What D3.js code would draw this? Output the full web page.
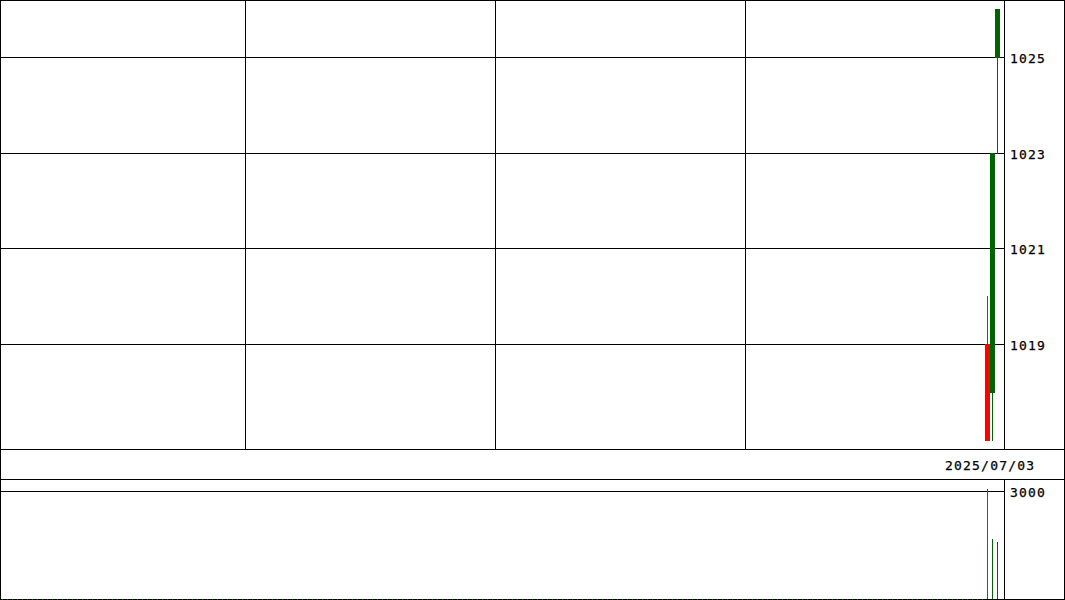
<!DOCTYPE html>
<html>
<head>
<meta charset="utf-8">
<script src="https://cdn.jsdelivr.net/npm/d3@7/dist/d3.min.js"></script>
<style>
  html, body { margin: 0; padding: 0; background: #fff; overflow: hidden; }
  svg { display: block; }
  text { font-family: "DejaVu Sans Mono", monospace; font-size: 13px; fill: #000; letter-spacing: 1.2px; stroke: #000; stroke-width: 0.25px; }
</style>
</head>
<body>
<svg id="chart" width="1065" height="600"></svg>
<script>
// ---- data ----
const slots   = [197, 198, 199];            // trading-day slot index on the x axis
const opens   = [1019, 1018, 1025];
const highs   = [1020, 1023, 1026];
const lows    = [1017, 1017, 1023];
const closes  = [1017, 1023, 1026];
const volumes = [3060, 1670, 1580];
const priceTicks  = [1019, 1021, 1023, 1025];
const volumeTicks = [3000];
const monthSlots  = [49, 99, 149];            // vertical separators
const dateLabel   = "2025/07/03";

// ---- layout ----
const W = 1065, H = 600;
const plotRight = 1004, priceBottom = 449, dateBottom = 479, volBottom = 599;
const svg = d3.select("#chart");
const px = v => Math.round(v) + 0.5;

const x = d3.scaleLinear().domain([0, 200]).range([0, 1000]);
const y = d3.scaleLinear().domain([1019, 1025]).range([344, 57]);
const yv = d3.scaleLinear().domain([0, 3000]).range([volBottom, 491]);

const g = svg.append("g").attr("shape-rendering", "crispEdges");
const line = (x1, y1, x2, y2, col) => g.append("line")
  .attr("x1", x1).attr("y1", y1).attr("x2", x2).attr("y2", y2)
  .attr("stroke", col || "#000").attr("stroke-width", 1);

// price gridlines
priceTicks.forEach(t => {
  line(0, px(y(t)), plotRight, px(y(t)));
  svg.append("text").attr("x", 1010).attr("y", Math.round(y(t)) + 6).text(t);
});
// month separators
monthSlots.forEach(s => line(px(x(s)), 0, px(x(s)), priceBottom));

// volume gridline
volumeTicks.forEach(t => {
  line(0, px(yv(t)), plotRight, px(yv(t)));
  svg.append("text").attr("x", 1010).attr("y", Math.round(yv(t)) + 6).text(t);
});

// date label
svg.append("text").attr("x", 945).attr("y", 470).text(dateLabel);

// candles
const data = slots.map((s, i) => ({ s, o: opens[i], h: highs[i], l: lows[i], c: closes[i], v: volumes[i] }));
const colorOf = d => d.c >= d.o ? "#006400" : "#ff0000";

data.forEach(d => {
  const cx = px(x(d.s) + 2);
  line(cx, Math.round(y(d.h)), cx, Math.round(y(d.l)) + 1, colorOf(d));
  const top = Math.round(y(Math.max(d.o, d.c)));
  const bot = Math.round(y(Math.min(d.o, d.c))) + 1;
  g.append("rect").attr("x", x(d.s)).attr("width", 5)
    .attr("y", top).attr("height", bot - top).attr("fill", colorOf(d));
  // volume
  line(cx, Math.round(yv(d.v)), cx, volBottom, colorOf(d));
});

// frame lines
line(0, px(priceBottom), W, px(priceBottom));
line(0, px(dateBottom), W, px(dateBottom));
line(px(plotRight), 0, px(plotRight), priceBottom);
line(px(plotRight), dateBottom, px(plotRight), volBottom);
line(0, px(volBottom), W, px(volBottom));
line(0.5, 0, 0.5, H);
line(W - 0.5, 0, W - 0.5, H);
line(0, 0.5, W, 0.5);
// zero-volume dots along the base
g.append("line").attr("x1", 2).attr("x2", x(slots[0])).attr("y1", px(volBottom)).attr("y2", px(volBottom))
  .attr("stroke", "#006400").attr("stroke-dasharray", "1,4");
</script>
</body>
</html>
